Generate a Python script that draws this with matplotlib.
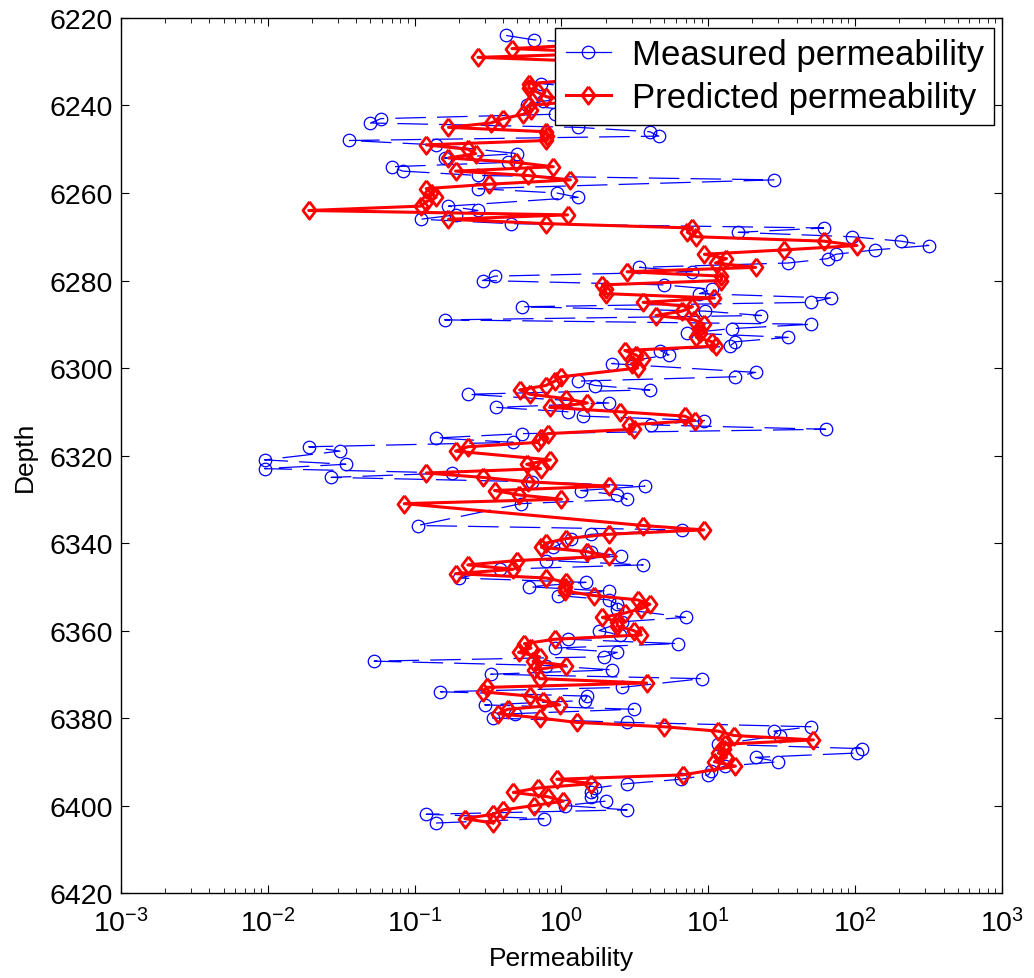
import matplotlib
matplotlib.use('Agg')
import matplotlib.pyplot as plt
import numpy as np

plt.rcParams['font.family'] = ['Liberation Sans', 'DejaVu Sans']
plt.rcParams['mathtext.fontset'] = 'custom'
plt.rcParams['mathtext.rm'] = 'Liberation Sans'
plt.rcParams['mathtext.it'] = 'Liberation Sans:italic'
plt.rcParams['mathtext.bf'] = 'Liberation Sans:bold'
plt.rcParams['lines.scale_dashes'] = False

# measured core permeability vs depth
meas_depth = [6224, 6225, 6226, 6227, 6228, 6229, 6230, 6231, 6232, 6233, 6234, 6235,
              6236, 6237, 6238, 6239, 6240, 6241, 6242, 6243, 6244, 6245, 6246, 6247,
              6248, 6249, 6251, 6252, 6253, 6254, 6255, 6256, 6257, 6259, 6260, 6261,
              6263, 6264, 6265, 6266, 6267, 6268, 6269, 6270, 6271, 6272, 6273, 6274,
              6275, 6276, 6277, 6278, 6279, 6280, 6281, 6282, 6283, 6284, 6285, 6286,
              6287, 6288, 6289, 6290, 6291, 6292, 6293, 6294, 6295, 6296, 6297, 6299,
              6301, 6302, 6303, 6304, 6305, 6306, 6308, 6309, 6310, 6311, 6312, 6313,
              6314, 6315, 6316, 6317, 6318, 6319, 6321, 6322, 6323, 6324, 6325, 6326,
              6327, 6328, 6329, 6330, 6331, 6336, 6337, 6338, 6339, 6341, 6342, 6343,
              6344, 6345, 6346, 6348, 6349, 6350, 6351, 6352, 6353, 6354, 6355, 6357,
              6358, 6360, 6361, 6362, 6363, 6364, 6365, 6366, 6367, 6368, 6369, 6370,
              6371, 6373, 6374, 6375, 6376, 6377, 6378, 6379, 6380, 6381, 6382, 6383,
              6384, 6386, 6387, 6388, 6389, 6390, 6391, 6392, 6393, 6394, 6395, 6396,
              6397, 6398, 6399, 6400, 6401, 6402, 6403, 6404]
meas_perm = [0.42, 0.65, 2.0, 3.5, 1.8, 5.0, 2.5, 4.0, 1.5, 3.0, 2.2, 0.72,
             1.6, 2.5, 1.8, 0.75, 0.58, 1.1, 0.9, 0.059, 0.050, 1.3, 4.0, 4.6,
             0.036, 0.14, 0.50, 0.16, 0.43, 0.070, 0.083, 0.27, 28, 0.27, 0.93, 1.3,
             0.17, 0.27, 0.19, 0.11, 0.45, 61, 16, 95, 204, 318, 137, 74,
             65, 35, 3.4, 7.8, 0.35, 0.29, 5.0, 10.6, 8.7, 68, 50, 0.54,
             9.5, 23, 0.16, 50, 14.4, 7.2, 35, 15.3, 14, 4.7, 5.4, 2.2,
             21, 15.3, 1.3, 1.7, 4.0, 0.23, 2.1, 0.36, 1.1, 1.4, 9.4, 4.1,
             63, 0.54, 0.14, 0.47, 0.019, 0.031, 0.0095, 0.034, 0.0095, 0.18, 0.027, 0.63,
             3.7, 1.35, 2.4, 2.8, 0.53, 0.105, 6.6, 1.6, 1.17, 0.88, 1.58, 2.55,
             0.79, 3.6, 0.38, 0.20, 1.47, 0.60, 2.1, 0.95, 2.1, 2.4, 2.4, 7.0,
             2.6, 1.8, 2.5, 1.1, 6.2, 0.91, 2.4, 1.95, 0.053, 0.79, 2.2, 0.33,
             9.1, 2.6, 0.15, 1.5, 1.44, 0.30, 3.1, 0.48, 0.34, 2.8, 50, 28,
             31, 11.7, 111, 103, 21, 30, 12.9, 10.5, 10, 6.5, 2.8, 1.7,
             1.6, 1.6, 2.0, 1.05, 2.8, 0.12, 0.76, 0.14]

# predicted permeability vs depth
pred_depth = [6226, 6227, 6228, 6229, 6230, 6231, 6232, 6233, 6234, 6235, 6236, 6237,
              6238, 6239, 6240, 6241, 6242, 6243, 6244, 6245, 6246, 6247, 6248, 6249,
              6250, 6251, 6252, 6253, 6254, 6255, 6256, 6257, 6258, 6259, 6260, 6261,
              6262, 6263, 6264, 6265, 6266, 6267, 6268, 6269, 6270, 6271, 6272, 6273,
              6274, 6275, 6276, 6277, 6278, 6279, 6280, 6281, 6282, 6283, 6284, 6285,
              6286, 6287, 6288, 6289, 6290, 6291, 6292, 6293, 6294, 6295, 6296, 6297,
              6298, 6299, 6300, 6302, 6303, 6304, 6305, 6306, 6307, 6308, 6309, 6310,
              6311, 6312, 6313, 6314, 6315, 6316, 6317, 6318, 6319, 6321, 6322, 6323,
              6324, 6325, 6326, 6327, 6328, 6329, 6330, 6331, 6336, 6337, 6338, 6339,
              6340, 6341, 6342, 6343, 6344, 6345, 6346, 6347, 6348, 6349, 6350, 6351,
              6352, 6353, 6354, 6355, 6356, 6357, 6358, 6359, 6360, 6361, 6362, 6363,
              6364, 6365, 6366, 6367, 6368, 6369, 6371, 6372, 6373, 6374, 6375, 6376,
              6377, 6378, 6379, 6380, 6381, 6382, 6383, 6384, 6385, 6386, 6387, 6388,
              6389, 6390, 6391, 6393, 6394, 6395, 6396, 6397, 6398, 6399, 6400, 6401,
              6402, 6403, 6404]
pred_perm = [1.6, 0.46, 2.5, 0.27, 1.8, 3.0, 1.6, 2.2, 1.4, 0.60, 0.60, 0.69,
             0.79, 1.3, 0.60, 0.62, 0.55, 0.40, 0.33, 0.17, 0.79, 0.80, 0.78, 0.12,
             0.23, 0.26, 0.17, 0.49, 0.88, 0.19, 0.59, 1.15, 0.32, 0.12, 0.13, 0.14,
             0.12, 0.11, 0.019, 1.1, 0.17, 0.78, 7.8, 7.2, 8.3, 61, 103, 33,
             9.4, 13.3, 11.2, 21, 2.8, 12.3, 12.3, 1.9, 2.0, 2.0, 11, 3.6,
             7.8, 6.6, 4.4, 8.0, 9.4, 8.7, 8.8, 8.3, 10.6, 11.2, 2.7, 3.2,
             3.6, 3.0, 3.3, 1.0, 0.9, 0.78, 0.52, 0.61, 1.07, 1.5, 0.83, 2.5,
             6.9, 8.1, 2.9, 3.1, 0.81, 0.72, 0.69, 0.23, 0.19, 0.84, 0.58, 0.72,
             0.12, 0.29, 0.59, 2.1, 0.35, 0.51, 1.0, 0.085, 3.6, 9.3, 2.1, 1.07,
             0.79, 0.73, 1.5, 2.1, 0.50, 0.23, 0.47, 0.19, 0.79, 1.07, 1.06, 1.06,
             1.66, 3.3, 4.0, 3.5, 2.7, 1.9, 2.4, 2.4, 3.1, 3.5, 0.9, 0.56,
             0.62, 0.51, 0.71, 0.64, 1.07, 0.65, 0.71, 3.8, 0.31, 0.29, 0.61, 0.75,
             0.97, 0.43, 0.37, 0.71, 1.27, 5.0, 11.7, 15, 52, 12.9, 12.7, 11.7,
             13.3, 11, 15.3, 6.7, 0.93, 1.6, 0.69, 0.47, 0.81, 1.03, 0.65, 0.40,
             0.34, 0.22, 0.34]

x_ticks = [1e-3, 1e-2, 1e-1, 1e0, 1e1, 1e2, 1e3]
y_ticks = np.arange(6220, 6421, 20)

# diamond a bit wider than matplotlib's thin one
diamond = [(0, 1), (0.75, 0), (0, -1), (-0.75, 0), (0, 1)]

fig = plt.figure(figsize=(10.34, 9.79), dpi=100)
ax = fig.add_axes([0.1170, 0.0868, 0.8520, 0.8938])

ax.plot(meas_perm, meas_depth, color='blue', lw=0.9, ls=(0, (22, 8)),
        marker='o', ms=9, mfc='none', mec='blue', mew=0.9,
        label='Measured permeability')
ax.plot(pred_perm, pred_depth, color='red', lw=2.2, ls='-',
        marker=diamond, ms=12.5, mfc='none', mec='red', mew=2.0,
        label='Predicted permeability')

ax.set_xscale('log')
ax.set_xlim(1e-3, 1e3)
ax.set_ylim(6420, 6220)
ax.set_xticks(x_ticks)
ax.set_yticks(y_ticks)

ax.tick_params(which='both', direction='in', top=True, right=True)
ax.tick_params(which='major', length=6, width=0.8, labelsize=20.5)
ax.tick_params(axis='y', which='major', pad=6)
ax.tick_params(axis='x', which='major', pad=11)
ax.tick_params(which='minor', length=3.5, width=0.6)
for s in ax.spines.values():
    s.set_linewidth(1.0)

ax.set_xlabel('Permeability', fontsize=19, labelpad=6)
ax.set_ylabel('Depth', fontsize=19, labelpad=9)

leg = ax.legend(loc='upper right', bbox_to_anchor=(0.991, 0.9886), borderaxespad=0,
                fontsize=25, fancybox=False, framealpha=1, edgecolor='black',
                handlelength=1.3, handletextpad=0.6, borderpad=0.3, labelspacing=0.28)
leg.get_frame().set_linewidth(1.0)
# the short legend sample reads as a solid line in the original
leg.get_lines()[0].set_linestyle('-')

plt.savefig('out.png', dpi=100)
plt.close()
